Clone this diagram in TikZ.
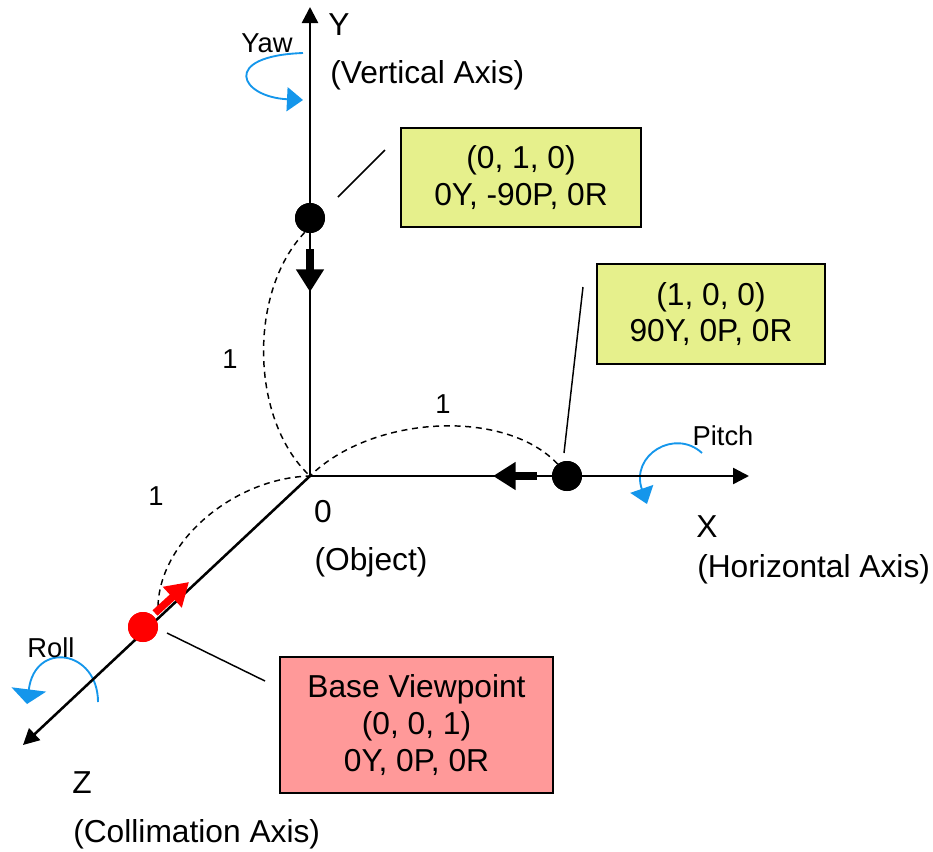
\documentclass[tikz,border=0pt]{standalone}
\usepackage{fontspec}
\setmainfont{Liberation Sans}
\usepackage{tikz}
\usetikzlibrary{arrows.meta}
\definecolor{boxgreen}{RGB}{230,240,140}
\definecolor{boxpink}{RGB}{255,153,153}
\definecolor{rotblue}{RGB}{20,150,235}

\begin{document}
\begin{tikzpicture}[x=0.75pt,y=-0.75pt,
		axis/.style={line width=1.9pt,-{Triangle[length=12pt,width=12pt]}},
		move/.style={line width=5.5pt,-{Triangle[length=17pt,width=20pt]}},
		rot/.style={rotblue,line width=1.4pt,-{Triangle[length=12pt,width=18pt]}},
		unitarc/.style={line width=1.1pt,dash pattern=on 4.5pt off 3.5pt},
		leader/.style={line width=1.1pt},
		dot/.style={circle,fill,inner sep=0pt,minimum size=22.5pt},
		infobox/.style={draw,line width=0.8pt,align=center,inner sep=0pt,font=\fontsize{23.8}{27.5}\selectfont},
		big/.style={font=\fontsize{23.8}{27.5}\selectfont,inner sep=0pt,anchor=base},
		small/.style={font=\fontsize{20.5}{24}\selectfont,inner sep=0pt,anchor=base}]
		\useasboundingbox (0,0) rectangle (933,851);
		\coordinate (O) at (310,476);
		\coordinate (Ytip) at (310,7);
		\coordinate (Xtip) at (749,476);
		\coordinate (Ztip) at (23,745);
		\node[dot] (ydot) at (310,218) {};
		\node[dot] (xdot) at (567,476) {};
		\node[dot,red] (zdot) at (143,627) {};
		% unit arcs
		\draw[unitarc] (ydot.-110) .. controls (248,292) and (250,420) .. (O);
		\draw[unitarc] (xdot.128) .. controls (505,408) and (372,415) .. (O);
		\draw[unitarc] (158,606) .. controls (160,540) and (235,478) .. (O);
		% rotations
		\draw[rot] (303,53) .. controls (220,56) and (240,97) .. (303,100);
		\draw[rot] (702,453) .. controls (675,428) and (630,455) .. (647,504);
		\draw[rot,-{Triangle[length=11pt,width=26pt]}] (98,702) .. controls (98,650) and (35,640) .. (27,704);
		% axes
		\draw[axis] (O) -- (Ytip);
		\draw[axis] (O) -- (Xtip);
		\draw[axis] (O) -- (Ztip);
		\draw[move] (310,249) -- (310,292);
		\draw[move] (537,476) -- (493,476);
		\draw[move,red] (155,613) -- (189,582);
		\node[dot] at (ydot) {};
		\node[dot] at (xdot) {};
		\node[dot,red] at (zdot) {};
		% boxes
		\node[infobox,fill=boxgreen,minimum width=180pt,minimum height=74.25pt] (ybox) at (521,177.5) {(0, 1, 0)\\0Y, -90P, 0R};
		\node[infobox,fill=boxgreen,minimum width=171pt,minimum height=75pt] (xbox) at (711,314) {(1, 0, 0)\\90Y, 0P, 0R};
		\node[infobox,fill=boxpink,minimum width=204.75pt,minimum height=102pt] (zbox) at (416.5,725) {Base Viewpoint\\(0, 0, 1)\\0Y, 0P, 0R};
		\coordinate (ya) at (385,150);
		\coordinate (yb) at (338,197);
		\coordinate (xa) at (583,287);
		\coordinate (xb) at (564,453);
		\coordinate (za) at (265,681);
		\coordinate (zb) at (167,633);
		\draw[leader] (ya) -- (yb);
		\draw[leader] (xa) -- (xb);
		\draw[leader] (za) -- (zb);
		% labels
		\node[big] (ylab) at (339,35) {Y};
		\node[big,anchor=base west] (yname) at (330,83) {(Vertical Axis)};
		\node[big] (xlab) at (707,537) {X};
		\node[big,anchor=base west] (xname) at (697,577) {(Horizontal Axis)};
		\node[big] (zlab) at (82,793) {Z};
		\node[big,anchor=base west] (zname) at (73,842) {(Collimation Axis)};
		\node[big] (olab) at (323,522) {0};
		\node[big] (oname) at (371,570) {(Object)};
		\node[small] (yaw) at (267,52) {Yaw};
		\node[small] (pitch) at (723,445) {Pitch};
		\node[small] (roll) at (51,657) {Roll};
		\node[small] (yone) at (230,368) {1};
		\node[small] (xone) at (443,413) {1};
		\node[small] (zone) at (156,505) {1};
	\end{tikzpicture}
\end{document}
